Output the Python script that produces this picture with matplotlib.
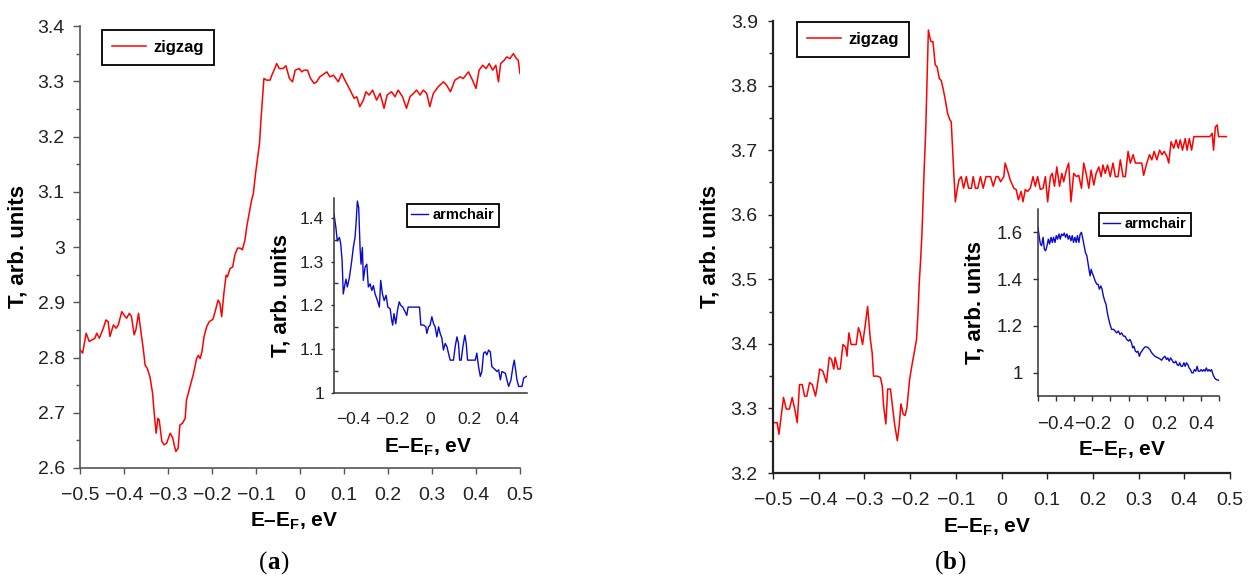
import matplotlib
matplotlib.use("Agg")
import matplotlib.pyplot as plt
from matplotlib.ticker import MultipleLocator, FuncFormatter
from matplotlib.offsetbox import TextArea, HPacker, AnnotationBbox

plt.rcParams["font.family"] = ["Liberation Sans", "DejaVu Sans"]
plt.rcParams["mathtext.fontset"] = "custom"
plt.rcParams["mathtext.rm"] = "Liberation Sans"
plt.rcParams["mathtext.bf"] = "Liberation Sans:bold"

# ---- (a) zigzag, main panel ----
zig_a_x = [-0.500, -0.494, -0.486, -0.479, -0.466, -0.462, -0.456, -0.447, -0.441, -0.436,
           -0.432, -0.424, -0.418, -0.413, -0.405, -0.400, -0.394, -0.388, -0.383, -0.377,
           -0.373, -0.367, -0.364, -0.356, -0.352, -0.347, -0.341, -0.335, -0.332, -0.327,
           -0.323, -0.320, -0.314, -0.309, -0.303, -0.295, -0.289, -0.286, -0.282, -0.277,
           -0.273, -0.267, -0.261, -0.258, -0.250, -0.242, -0.235, -0.231, -0.227, -0.223,
           -0.218, -0.212, -0.206, -0.198, -0.193, -0.186, -0.182, -0.178, -0.173, -0.168,
           -0.165, -0.159, -0.153, -0.148, -0.142, -0.136, -0.131, -0.125, -0.121, -0.114,
           -0.110, -0.106, -0.101, -0.097, -0.092, -0.089, -0.085, -0.082, -0.076, -0.068,
           -0.064, -0.059, -0.053, -0.047, -0.039, -0.032, -0.024, -0.017, -0.011, -0.002,
           0.004, 0.009, 0.017, 0.024, 0.032, 0.038, 0.045,
           0.061, 0.068, 0.076, 0.087, 0.095, 0.102, 0.114, 0.123, 0.129, 0.136,
           0.144, 0.150, 0.157, 0.165, 0.174, 0.182, 0.191, 0.198, 0.208, 0.216,
           0.223, 0.233, 0.242, 0.250, 0.258, 0.265, 0.273, 0.280, 0.288, 0.295,
           0.303, 0.314, 0.326, 0.333, 0.342, 0.352, 0.364, 0.371, 0.383, 0.392,
           0.400, 0.407, 0.415, 0.423, 0.430, 0.438, 0.445, 0.451, 0.456, 0.464,
           0.470, 0.477, 0.485, 0.492, 0.496, 0.500]
zig_a_t = [2.814, 2.808, 2.844, 2.829, 2.835, 2.844, 2.835, 2.853, 2.868, 2.865,
           2.838, 2.859, 2.853, 2.859, 2.883, 2.877, 2.871, 2.880, 2.874, 2.841,
           2.850, 2.880, 2.862, 2.814, 2.786, 2.780, 2.765, 2.735, 2.705, 2.663,
           2.690, 2.687, 2.648, 2.642, 2.645, 2.663, 2.654, 2.642, 2.630, 2.636,
           2.678, 2.681, 2.690, 2.723, 2.747, 2.771, 2.798, 2.804, 2.798, 2.810,
           2.838, 2.856, 2.865, 2.869, 2.883, 2.904, 2.898, 2.874, 2.916, 2.949,
           2.946, 2.961, 2.964, 2.986, 2.998, 2.998, 2.995, 3.013, 3.037, 3.067,
           3.085, 3.097, 3.133, 3.157, 3.188, 3.227, 3.272, 3.305, 3.302, 3.302,
           3.311, 3.320, 3.332, 3.323, 3.323, 3.328, 3.305, 3.299, 3.320, 3.323,
           3.317, 3.320, 3.320, 3.305, 3.296, 3.299, 3.308,
           3.317, 3.308, 3.311, 3.299, 3.314, 3.302, 3.284, 3.269, 3.272, 3.254,
           3.266, 3.281, 3.275, 3.284, 3.266, 3.278, 3.251, 3.275, 3.281, 3.272,
           3.284, 3.272, 3.251, 3.272, 3.278, 3.284, 3.275, 3.284, 3.278, 3.254,
           3.278, 3.290, 3.299, 3.293, 3.281, 3.302, 3.308, 3.305, 3.317, 3.302,
           3.287, 3.320, 3.329, 3.323, 3.332, 3.320, 3.329, 3.299, 3.332, 3.338,
           3.344, 3.341, 3.350, 3.341, 3.338, 3.314]

# ---- (a) armchair, inset ----
arm_a_x = [-0.500, -0.490, -0.483, -0.472, -0.465, -0.458, -0.452, -0.443, -0.438, -0.431,
           -0.420, -0.408, -0.400, -0.391, -0.386, -0.379, -0.372, -0.365, -0.360, -0.353,
           -0.348, -0.339, -0.330, -0.322, -0.313, -0.304, -0.296, -0.287, -0.275, -0.265,
           -0.258, -0.249, -0.240, -0.230, -0.221, -0.209, -0.201, -0.196, -0.189, -0.180,
           -0.171, -0.162, -0.154, -0.144, -0.131, -0.123, -0.116, -0.106, -0.088, -0.071,
           -0.057, -0.050, -0.036, -0.024, -0.019, -0.010, -0.002, 0.007, 0.016, 0.024,
           0.033, 0.042, 0.050, 0.059, 0.067, 0.076, 0.085, 0.093, 0.102, 0.119,
           0.128, 0.137, 0.145, 0.151, 0.159, 0.168, 0.178, 0.185, 0.192, 0.206,
           0.232, 0.240, 0.249, 0.258, 0.266, 0.275, 0.284, 0.292, 0.301, 0.310,
           0.318, 0.336, 0.344, 0.353, 0.362, 0.370, 0.388, 0.396, 0.405, 0.417,
           0.427, 0.434, 0.441, 0.448, 0.457, 0.474, 0.483, 0.497]
arm_a_t = [1.408, 1.377, 1.347, 1.355, 1.340, 1.302, 1.226, 1.249, 1.260, 1.242,
           1.264, 1.302, 1.332, 1.355, 1.385, 1.438, 1.423, 1.332, 1.294, 1.332,
           1.257, 1.287, 1.294, 1.242, 1.249, 1.234, 1.245, 1.226, 1.211, 1.196,
           1.257, 1.226, 1.211, 1.223, 1.196, 1.192, 1.166, 1.155, 1.181, 1.158,
           1.189, 1.208, 1.200, 1.196, 1.185, 1.177, 1.196, 1.196, 1.196, 1.196,
           1.196, 1.155, 1.155, 1.151, 1.136, 1.151, 1.155, 1.174, 1.158, 1.151,
           1.128, 1.151, 1.136, 1.125, 1.098, 1.113, 1.106, 1.091, 1.075, 1.075,
           1.106, 1.128, 1.113, 1.075, 1.075, 1.106, 1.132, 1.113, 1.075, 1.075,
           1.075, 1.091, 1.060, 1.038, 1.049, 1.091, 1.094, 1.087, 1.098, 1.094,
           1.060, 1.053, 1.049, 1.053, 1.030, 1.049, 1.045, 1.030, 1.015, 1.030,
           1.060, 1.075, 1.053, 1.030, 1.015, 1.015, 1.034, 1.038]

# ---- (b) zigzag, main panel ----
zig_b_x = [-0.499, -0.491, -0.487, -0.482, -0.477, -0.471, -0.464, -0.458, -0.453, -0.447,
           -0.442, -0.436, -0.431, -0.426, -0.420, -0.414, -0.407, -0.402, -0.398, -0.391,
           -0.383, -0.377, -0.372, -0.367, -0.364, -0.358, -0.353, -0.347, -0.341, -0.338,
           -0.334, -0.329, -0.323, -0.318, -0.313, -0.309, -0.304, -0.298, -0.293, -0.287,
           -0.283, -0.280, -0.272, -0.265, -0.261, -0.258, -0.253, -0.249, -0.243, -0.237,
           -0.234, -0.228, -0.224, -0.220, -0.215, -0.211, -0.207, -0.201, -0.195, -0.191,
           -0.186, -0.183, -0.180, -0.177, -0.174, -0.172, -0.169, -0.166, -0.163, -0.160,
           -0.157, -0.154, -0.150, -0.145, -0.141, -0.136, -0.132, -0.128, -0.123, -0.118,
           -0.113, -0.110, -0.107, -0.104, -0.101, -0.097, -0.093, -0.088, -0.083, -0.077,
           -0.072, -0.066, -0.062, -0.057, -0.052, -0.046, -0.040, -0.034, -0.030, -0.024,
           -0.018, -0.012, -0.007, -0.002,
           0.005, 0.008, 0.013, 0.019, 0.027, 0.032, 0.037, 0.043, 0.047, 0.052,
           0.057, 0.063, 0.069, 0.074, 0.079, 0.085, 0.091, 0.096, 0.101, 0.107,
           0.111, 0.116, 0.121, 0.127, 0.132, 0.136, 0.142, 0.147, 0.152, 0.158,
           0.164, 0.169, 0.175, 0.180, 0.186, 0.191, 0.196, 0.202, 0.207, 0.213,
           0.218, 0.222, 0.227, 0.232, 0.238, 0.244, 0.249, 0.255, 0.260, 0.266,
           0.271, 0.277, 0.282, 0.288, 0.293, 0.297, 0.302, 0.307, 0.311, 0.318,
           0.324, 0.329, 0.334, 0.340, 0.346, 0.351, 0.356, 0.362, 0.366, 0.371,
           0.377, 0.382, 0.387, 0.391, 0.396, 0.402, 0.406, 0.411, 0.416, 0.421,
           0.428, 0.443, 0.456, 0.461, 0.464, 0.468, 0.472, 0.475, 0.479, 0.492]
zig_b_t = [3.278, 3.278, 3.260, 3.289, 3.317, 3.299, 3.299, 3.317, 3.301, 3.278,
           3.337, 3.337, 3.319, 3.319, 3.340, 3.337, 3.319, 3.340, 3.361, 3.358,
           3.340, 3.379, 3.376, 3.361, 3.379, 3.361, 3.361, 3.399, 3.395, 3.381,
           3.417, 3.399, 3.399, 3.399, 3.425, 3.417, 3.399, 3.430, 3.458, 3.407,
           3.386, 3.350, 3.350, 3.348, 3.335, 3.304, 3.276, 3.330, 3.330, 3.294,
           3.276, 3.250, 3.273, 3.307, 3.291, 3.289, 3.301, 3.345, 3.371, 3.386,
           3.407, 3.443, 3.494, 3.530, 3.572, 3.613, 3.675, 3.726, 3.803, 3.886,
           3.875, 3.868, 3.868, 3.832, 3.829, 3.811, 3.808, 3.796, 3.778, 3.757,
           3.747, 3.744, 3.700, 3.659, 3.620, 3.639, 3.654, 3.659, 3.641, 3.659,
           3.641, 3.641, 3.659, 3.641, 3.641, 3.659, 3.641, 3.659, 3.659, 3.659,
           3.644, 3.659, 3.659, 3.651,
           3.659, 3.680, 3.669, 3.654, 3.641, 3.639, 3.623, 3.636, 3.620, 3.639,
           3.636, 3.641, 3.659, 3.644, 3.659, 3.639, 3.641, 3.659, 3.620, 3.659,
           3.664, 3.644, 3.674, 3.644, 3.664, 3.651, 3.669, 3.680, 3.620, 3.664,
           3.659, 3.661, 3.641, 3.680, 3.661, 3.641, 3.669, 3.646, 3.664, 3.674,
           3.659, 3.677, 3.664, 3.677, 3.659, 3.680, 3.659, 3.659, 3.685, 3.659,
           3.659, 3.698, 3.680, 3.693, 3.680, 3.680, 3.680, 3.680, 3.661, 3.680,
           3.693, 3.685, 3.698, 3.685, 3.700, 3.693, 3.698, 3.690, 3.680, 3.713,
           3.703, 3.716, 3.703, 3.716, 3.700, 3.718, 3.700, 3.718, 3.700, 3.721,
           3.721, 3.721, 3.721, 3.726, 3.700, 3.736, 3.739, 3.721, 3.721, 3.721]

# ---- (b) armchair, inset ----
arm_b_x = [-0.500, -0.494, -0.487, -0.480, -0.472, -0.465, -0.458, -0.450, -0.443, -0.436,
           -0.428, -0.421, -0.414, -0.406, -0.399, -0.392, -0.384, -0.377, -0.370, -0.362,
           -0.355, -0.348, -0.340, -0.333, -0.326, -0.318, -0.311, -0.304, -0.296, -0.289,
           -0.282, -0.274, -0.267, -0.260, -0.252, -0.245, -0.238, -0.230, -0.223, -0.217,
           -0.212, -0.206, -0.201, -0.194, -0.184, -0.175, -0.168, -0.161, -0.153, -0.146,
           -0.139, -0.131, -0.124, -0.117, -0.109, -0.102, -0.093, -0.083, -0.074, -0.065,
           -0.056, -0.047, -0.038, -0.028, -0.019, -0.010, 0.000, 0.008, 0.017, 0.023,
           0.030, 0.038, 0.045, 0.052, 0.060, 0.067, 0.074, 0.082, 0.091, 0.100,
           0.109, 0.118, 0.128, 0.137, 0.146, 0.155, 0.164, 0.173, 0.183, 0.192,
           0.201, 0.210, 0.217, 0.225, 0.232, 0.239, 0.247, 0.254, 0.261, 0.269,
           0.276, 0.283, 0.291, 0.298, 0.306, 0.313, 0.320, 0.328, 0.335, 0.342,
           0.350, 0.357, 0.364, 0.372, 0.379, 0.386, 0.394, 0.401, 0.408, 0.416,
           0.423, 0.430, 0.438, 0.445, 0.452, 0.459, 0.467, 0.476, 0.485, 0.500]
arm_b_t = [1.621, 1.586, 1.550, 1.543, 1.579, 1.528, 1.521, 1.543, 1.571, 1.550,
           1.579, 1.557, 1.579, 1.557, 1.586, 1.571, 1.593, 1.571, 1.593, 1.586,
           1.597, 1.579, 1.593, 1.571, 1.586, 1.564, 1.586, 1.557, 1.579, 1.557,
           1.586, 1.557, 1.593, 1.600, 1.571, 1.543, 1.514, 1.500, 1.464, 1.435,
           1.414, 1.442, 1.428, 1.414, 1.392, 1.378, 1.378, 1.357, 1.371, 1.357,
           1.328, 1.306, 1.292, 1.256, 1.228, 1.206, 1.185, 1.185, 1.178, 1.170,
           1.178, 1.163, 1.170, 1.156, 1.156, 1.142, 1.135, 1.142, 1.127, 1.106,
           1.113, 1.092, 1.087, 1.092, 1.070, 1.085, 1.092, 1.102, 1.110, 1.110,
           1.106, 1.099, 1.085, 1.077, 1.070, 1.066, 1.063, 1.059, 1.053, 1.063,
           1.070, 1.056, 1.063, 1.049, 1.063, 1.056, 1.044, 1.042, 1.049, 1.034,
           1.030, 1.042, 1.027, 1.027, 1.042, 1.027, 1.042, 1.034, 1.020, 1.013,
           0.999, 0.999, 1.013, 1.006, 1.027, 1.006, 1.006, 1.013, 1.006, 1.013,
           1.006, 1.020, 1.006, 1.013, 1.006, 1.013, 0.991, 0.977, 0.970, 0.967]

RED = "#ff0000"
BLUE = "#0a0acc"
XLABEL = r"E–E$_\mathbf{F}$, eV"
YLABEL = "T, arb. units"


def fmt(v, _):
    v = round(v, 3)
    if v == 0:
        return "0"
    return f"{v:g}".replace("-", "\u2212")


def style_axes(ax, tick_size=14, spine_color="#444444", spine_lw=1.2):
    for s in ("top", "right"):
        ax.spines[s].set_visible(False)
    for s in ("left", "bottom"):
        ax.spines[s].set_color(spine_color)
        ax.spines[s].set_linewidth(spine_lw)
    ax.xaxis.set_major_formatter(FuncFormatter(fmt))
    ax.yaxis.set_major_formatter(FuncFormatter(fmt))
    ax.tick_params(labelsize=tick_size, colors="#222222")
    ax.tick_params(which="both", color=spine_color, width=1)


def labels(ax, xpos, ypos):
    ax.set_xlabel(XLABEL, fontsize=15, fontweight="bold")
    ax.set_ylabel(YLABEL, fontsize=16, fontweight="bold")
    ax.xaxis.set_label_coords(*xpos)
    ax.yaxis.set_label_coords(*ypos)


def leg(ax, x, y, size, hl, htp, bp):
    lg = ax.legend(loc="upper left", bbox_to_anchor=(x, y), bbox_transform=fig.transFigure,
                   prop={"family": "Liberation Sans", "weight": "bold", "size": size},
                   handlelength=hl, handletextpad=htp, borderpad=bp, fancybox=False,
                   framealpha=1, borderaxespad=0)
    lg.get_frame().set_edgecolor("black")
    lg.get_frame().set_linewidth(1.3)


def panel_tag(letter, x, y):
    parts = [TextArea("(", textprops=dict(family="Liberation Serif", size=18)),
             TextArea(letter, textprops=dict(family="Liberation Serif", size=18, weight="bold")),
             TextArea(")", textprops=dict(family="Liberation Serif", size=18))]
    box = HPacker(children=parts, align="baseline", pad=0, sep=0)
    fig.add_artist(AnnotationBbox(box, (x, y), xycoords="figure fraction", frameon=False,
                                  box_alignment=(0.5, 0.5)))


W, H = 1249, 579
fig = plt.figure(figsize=(W / 100, H / 100), dpi=100)


def px_axes(left, top, right, bottom):
    return fig.add_axes([left / W, 1 - bottom / H, (right - left) / W, (bottom - top) / H])


# ---------------- panel (a) ----------------
ax1 = px_axes(80, 26, 520, 468)
ax1.plot(zig_a_x, zig_a_t, color=RED, lw=1.1, label="zigzag")
ax1.set_xlim(-0.5, 0.5)
ax1.set_ylim(2.6, 3.4)
ax1.xaxis.set_major_locator(MultipleLocator(0.1))
ax1.yaxis.set_major_locator(MultipleLocator(0.1))
ax1.yaxis.set_minor_locator(MultipleLocator(0.05))
style_axes(ax1, spine_color="#555555")
ax1.tick_params(axis="x", direction="out", length=4.5, pad=9)
ax1.tick_params(axis="y", which="major", direction="out", length=5, pad=6)
ax1.tick_params(axis="y", which="minor", direction="out", length=3)
labels(ax1, (0.486, -0.097), (-0.118, 0.5))
leg(ax1, 102 / W, 1 - 30 / H, 12, 2.05, 0.42, 0.6)

ins1 = px_axes(334, 198, 527, 393)
ins1.plot(arm_a_x, arm_a_t, color=BLUE, lw=1.0, label="armchair")
ins1.set_xlim(-0.5, 0.5)
ins1.set_ylim(1.0, 1.445)
ins1.xaxis.set_major_locator(MultipleLocator(0.2))
ins1.yaxis.set_major_locator(MultipleLocator(0.1))
ins1.yaxis.set_minor_locator(MultipleLocator(0.05))
style_axes(ins1, tick_size=12.5, spine_color="#333333", spine_lw=1.1)
ins1.tick_params(axis="x", length=0, pad=14)
ins1.tick_params(axis="y", which="major", direction="out", length=2, pad=5)
ins1.tick_params(axis="y", which="minor", direction="in", length=3)
labels(ins1, (0.488, -0.222), (-0.218, 0.5))
leg(ins1, 407 / W, 1 - 204 / H, 10.5, 1.15, 0.3, 0.3)

panel_tag("a", 274 / W, 1 - 563 / H)

# ---------------- panel (b) ----------------
ax2 = px_axes(773, 21, 1230, 473)
ax2.plot(zig_b_x, zig_b_t, color=RED, lw=1.1, label="zigzag")
ax2.set_xlim(-0.5, 0.5)
ax2.set_ylim(3.2, 3.9)
ax2.xaxis.set_major_locator(MultipleLocator(0.1))
ax2.yaxis.set_major_locator(MultipleLocator(0.1))
ax2.yaxis.set_minor_locator(MultipleLocator(0.05))
style_axes(ax2, spine_color="#222222", spine_lw=1.6)
ax2.tick_params(axis="x", direction="out", length=4.5, pad=9)
ax2.tick_params(axis="y", which="major", direction="out", length=3.5, pad=7.5)
ax2.tick_params(axis="y", which="minor", direction="out", length=3)
labels(ax2, (0.468, -0.097), (-0.115, 0.5))
leg(ax2, 797 / W, 1 - 22 / H, 12, 2.05, 0.42, 0.6)

ins2 = px_axes(1038, 209, 1219, 396)
ins2.plot(arm_b_x, arm_b_t, color=BLUE, lw=1.0, label="armchair")
ins2.set_xlim(-0.5, 0.5)
ins2.set_ylim(0.9, 1.7)
ins2.xaxis.set_major_locator(MultipleLocator(0.2))
ins2.xaxis.set_minor_locator(MultipleLocator(0.1))
style_axes(ins2, tick_size=13.5, spine_color="#333333", spine_lw=1.1)
ins2.set_yticks([1.0, 1.2, 1.4, 1.6])
ins2.tick_params(axis="x", which="both", direction="out", length=3.5, pad=11)
ins2.tick_params(axis="y", direction="out", length=3.5, pad=7.5)
labels(ins2, (0.464, -0.230), (-0.290, 0.5))
leg(ins2, 1099 / W, 1 - 213 / H, 10.5, 1.15, 0.3, 0.3)

panel_tag("b", 950 / W, 1 - 563 / H)

fig.savefig("out.png", dpi=100)
